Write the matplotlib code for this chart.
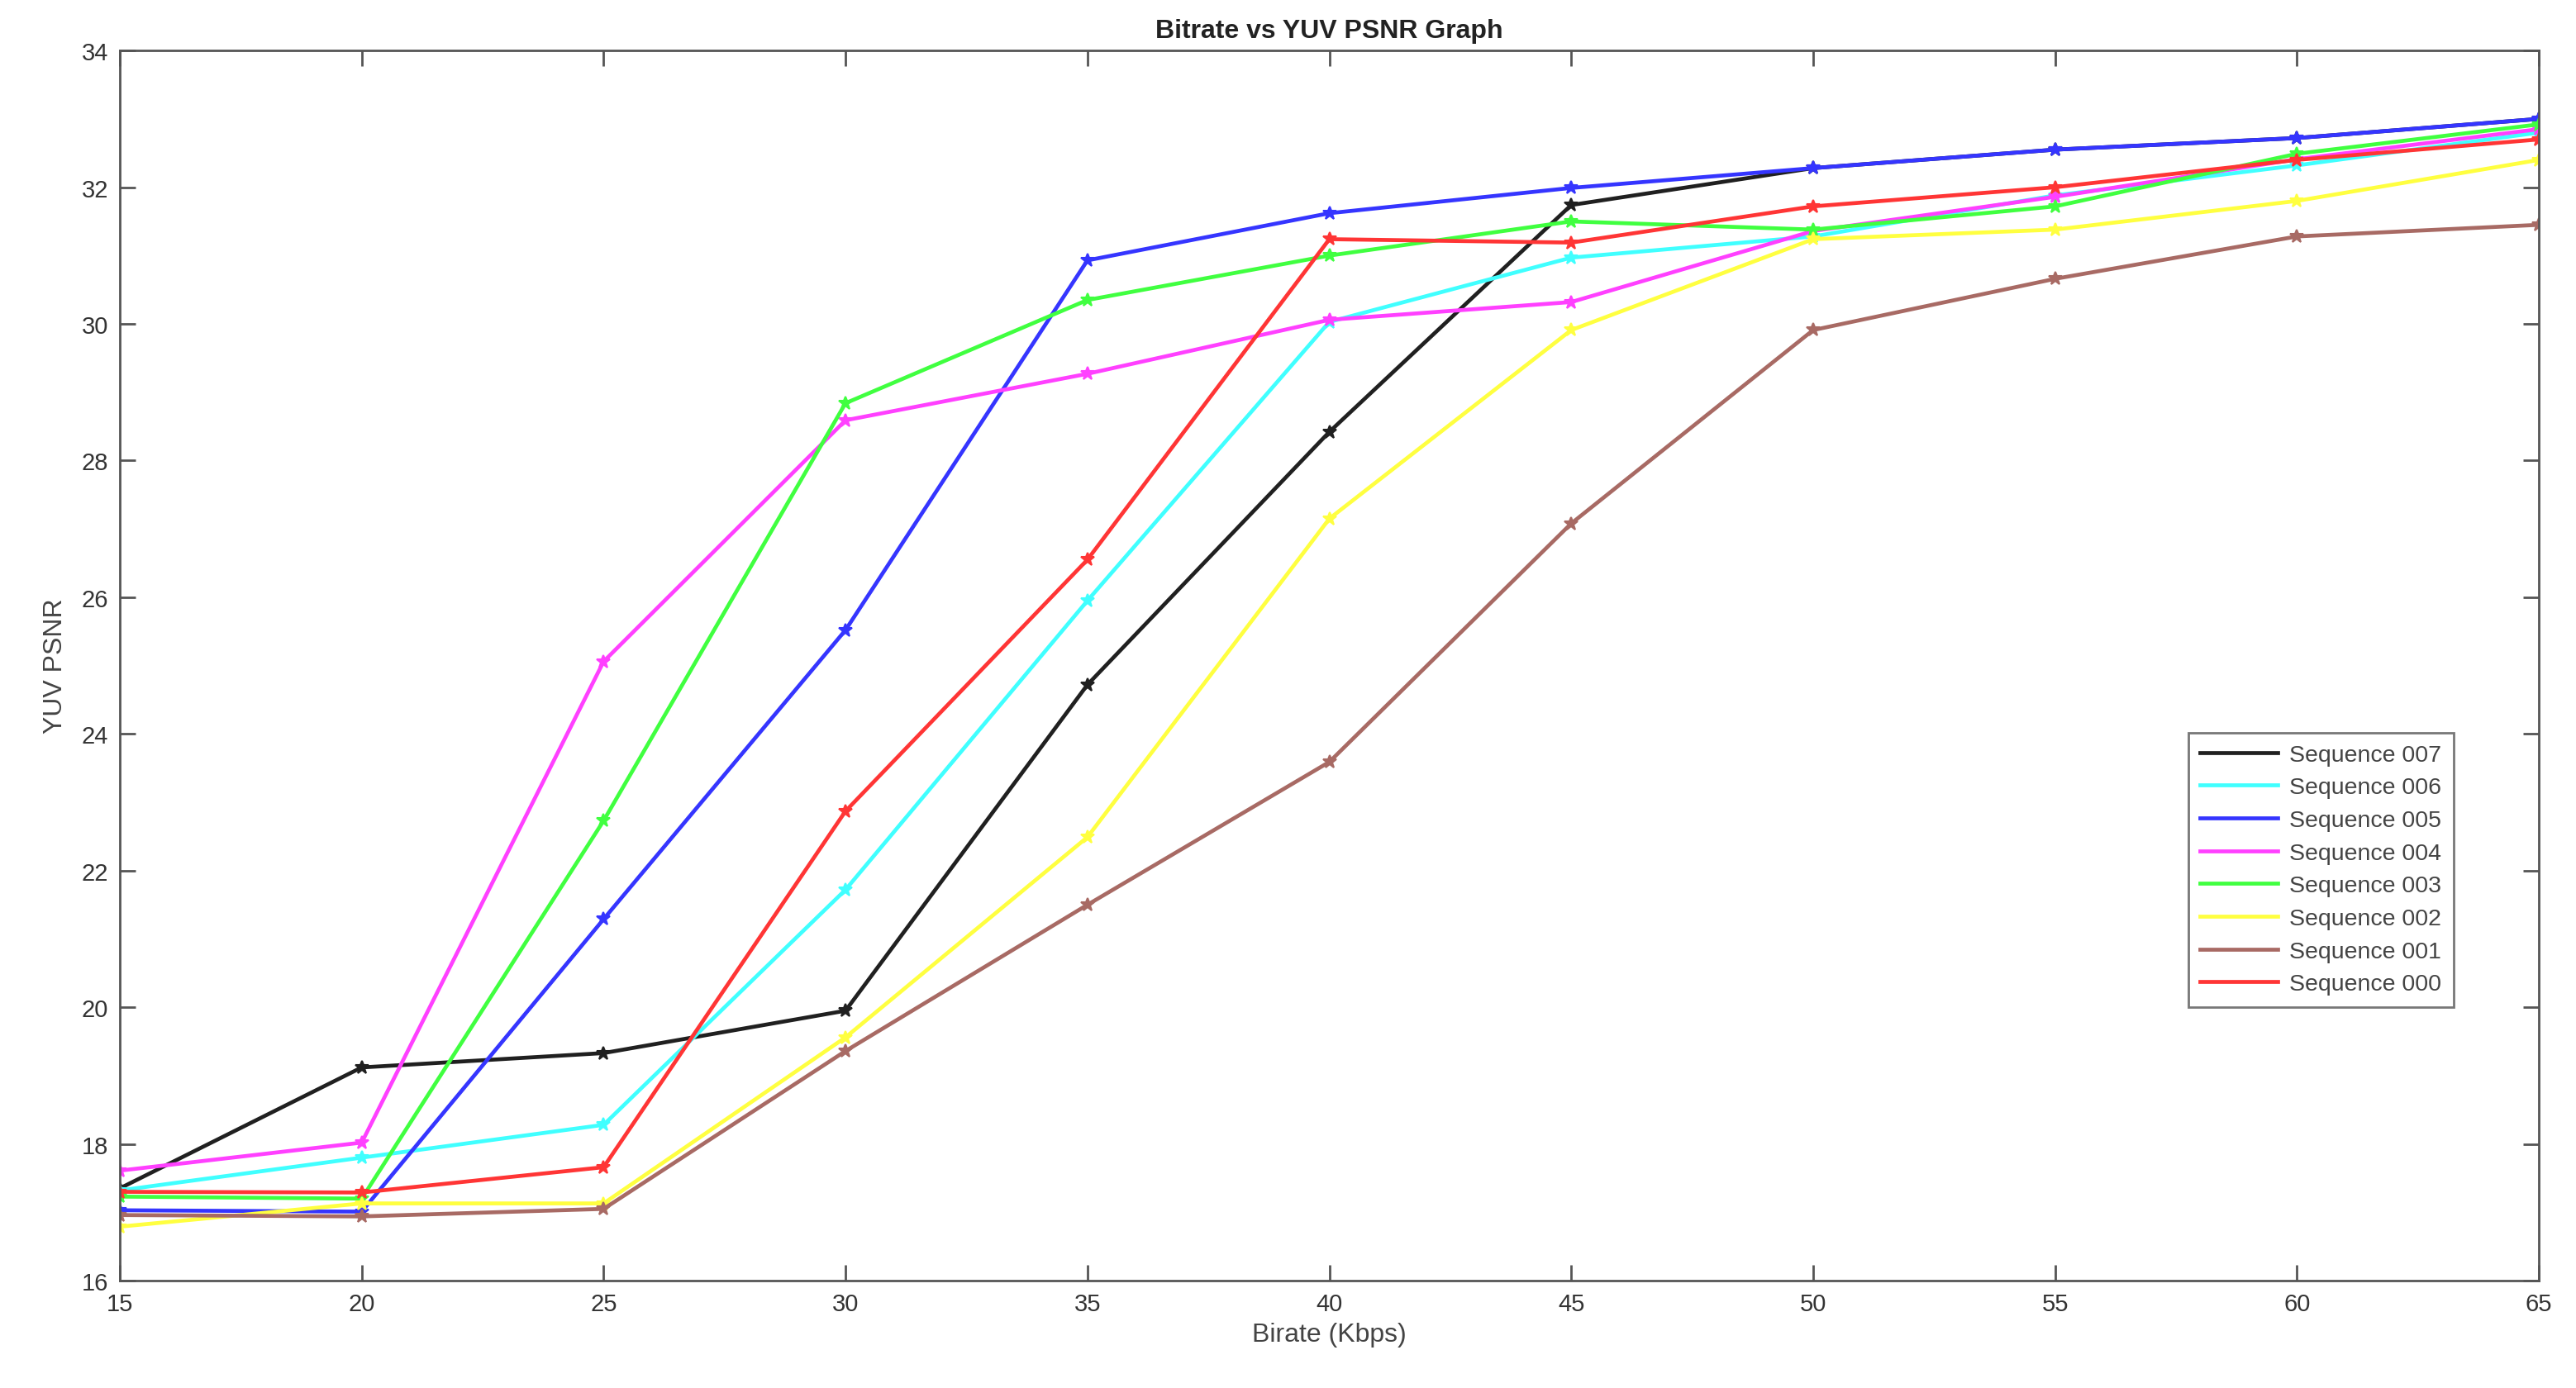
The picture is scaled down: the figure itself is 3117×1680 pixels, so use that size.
import matplotlib
matplotlib.use("Agg")
import matplotlib.pyplot as plt
from matplotlib.lines import Line2D

plt.rcParams['font.family'] = ['Liberation Sans', 'DejaVu Sans']

# bitrate axis (Kbps)
bitrate = [15, 20, 25, 30, 35, 40, 45, 50, 55, 60, 65]

# YUV PSNR per sequence
seq007 = [17.35, 19.12, 19.33, 19.95, 24.72, 28.42, 31.74, 32.28, 32.55, 32.72, 33.0]
seq006 = [17.32, 17.80, 18.28, 21.72, 25.95, 30.03, 30.97, 31.28, 31.88, 32.32, 32.80]
seq005 = [17.03, 17.01, 21.29, 25.52, 30.93, 31.62, 31.99, 32.28, 32.55, 32.72, 33.0]
seq004 = [17.61, 18.02, 25.06, 28.59, 29.27, 30.06, 30.32, 31.36, 31.86, 32.41, 32.85]
seq003 = [17.23, 17.20, 22.73, 28.84, 30.35, 31.00, 31.50, 31.38, 31.72, 32.49, 32.92]
seq002 = [16.79, 17.13, 17.13, 19.56, 22.49, 27.15, 29.91, 31.24, 31.38, 31.80, 32.40]
seq001 = [16.96, 16.94, 17.05, 19.36, 21.50, 23.59, 27.08, 29.91, 30.66, 31.28, 31.45]
seq000 = [17.30, 17.29, 17.66, 22.87, 26.55, 31.24, 31.19, 31.72, 32.00, 32.40, 32.70]

labels = ['Sequence 007', 'Sequence 006', 'Sequence 005', 'Sequence 004',
          'Sequence 003', 'Sequence 002', 'Sequence 001', 'Sequence 000']
colors = ['#202020', '#40ffff', '#3535ff', '#ff40ff',
          '#40ff40', '#ffff40', '#a86a64', '#ff3535']
series = [seq007, seq006, seq005, seq004, seq003, seq002, seq001, seq000]

fig = plt.figure(figsize=(31.17, 16.81), dpi=100)
ax = fig.add_axes([0.0465, 0.0773, 0.9391, 0.8857])

# plot in legend order (007 first, 000 last)
for vals, col in zip(series, colors):
    ax.plot(bitrate, vals, color=col, lw=3.4, marker='*', ms=12,
            markeredgewidth=1.5)

ax.set_xlim(15, 65)
ax.set_ylim(16, 34)
ax.set_xticks(range(15, 66, 5))
ax.set_yticks(range(16, 35, 2))

for sp in ax.spines.values():
    sp.set_color('#555555')
    sp.set_linewidth(2)
ax.tick_params(direction='in', length=14, width=2, color='#555555',
               labelsize=21, labelcolor='#333333', top=True, right=True, pad=10)

ax.set_title('Bitrate vs YUV PSNR Graph', fontsize=23, fontweight='bold',
             color='#222222', pad=12)
ax.set_xlabel('Birate (Kbps)', fontsize=23, color='#444444', labelpad=6)
ax.set_ylabel('YUV PSNR', fontsize=23, color='#444444', labelpad=12)

# legend shows only the lines, like the original
handles = [Line2D([0], [0], color=c, lw=3.4) for c in colors]
leg = ax.legend(handles, labels, loc='lower right', bbox_to_anchor=(0.9695, 0.213),
                fontsize=20.5, handlelength=3.3, handletextpad=0.5,
                labelspacing=0.48, borderpad=0.5, frameon=True, fancybox=False,
                labelcolor='#444444')
leg.get_frame().set_edgecolor('#555555')
leg.get_frame().set_linewidth(2)

fig.savefig('out.png', dpi=100, facecolor='white')
